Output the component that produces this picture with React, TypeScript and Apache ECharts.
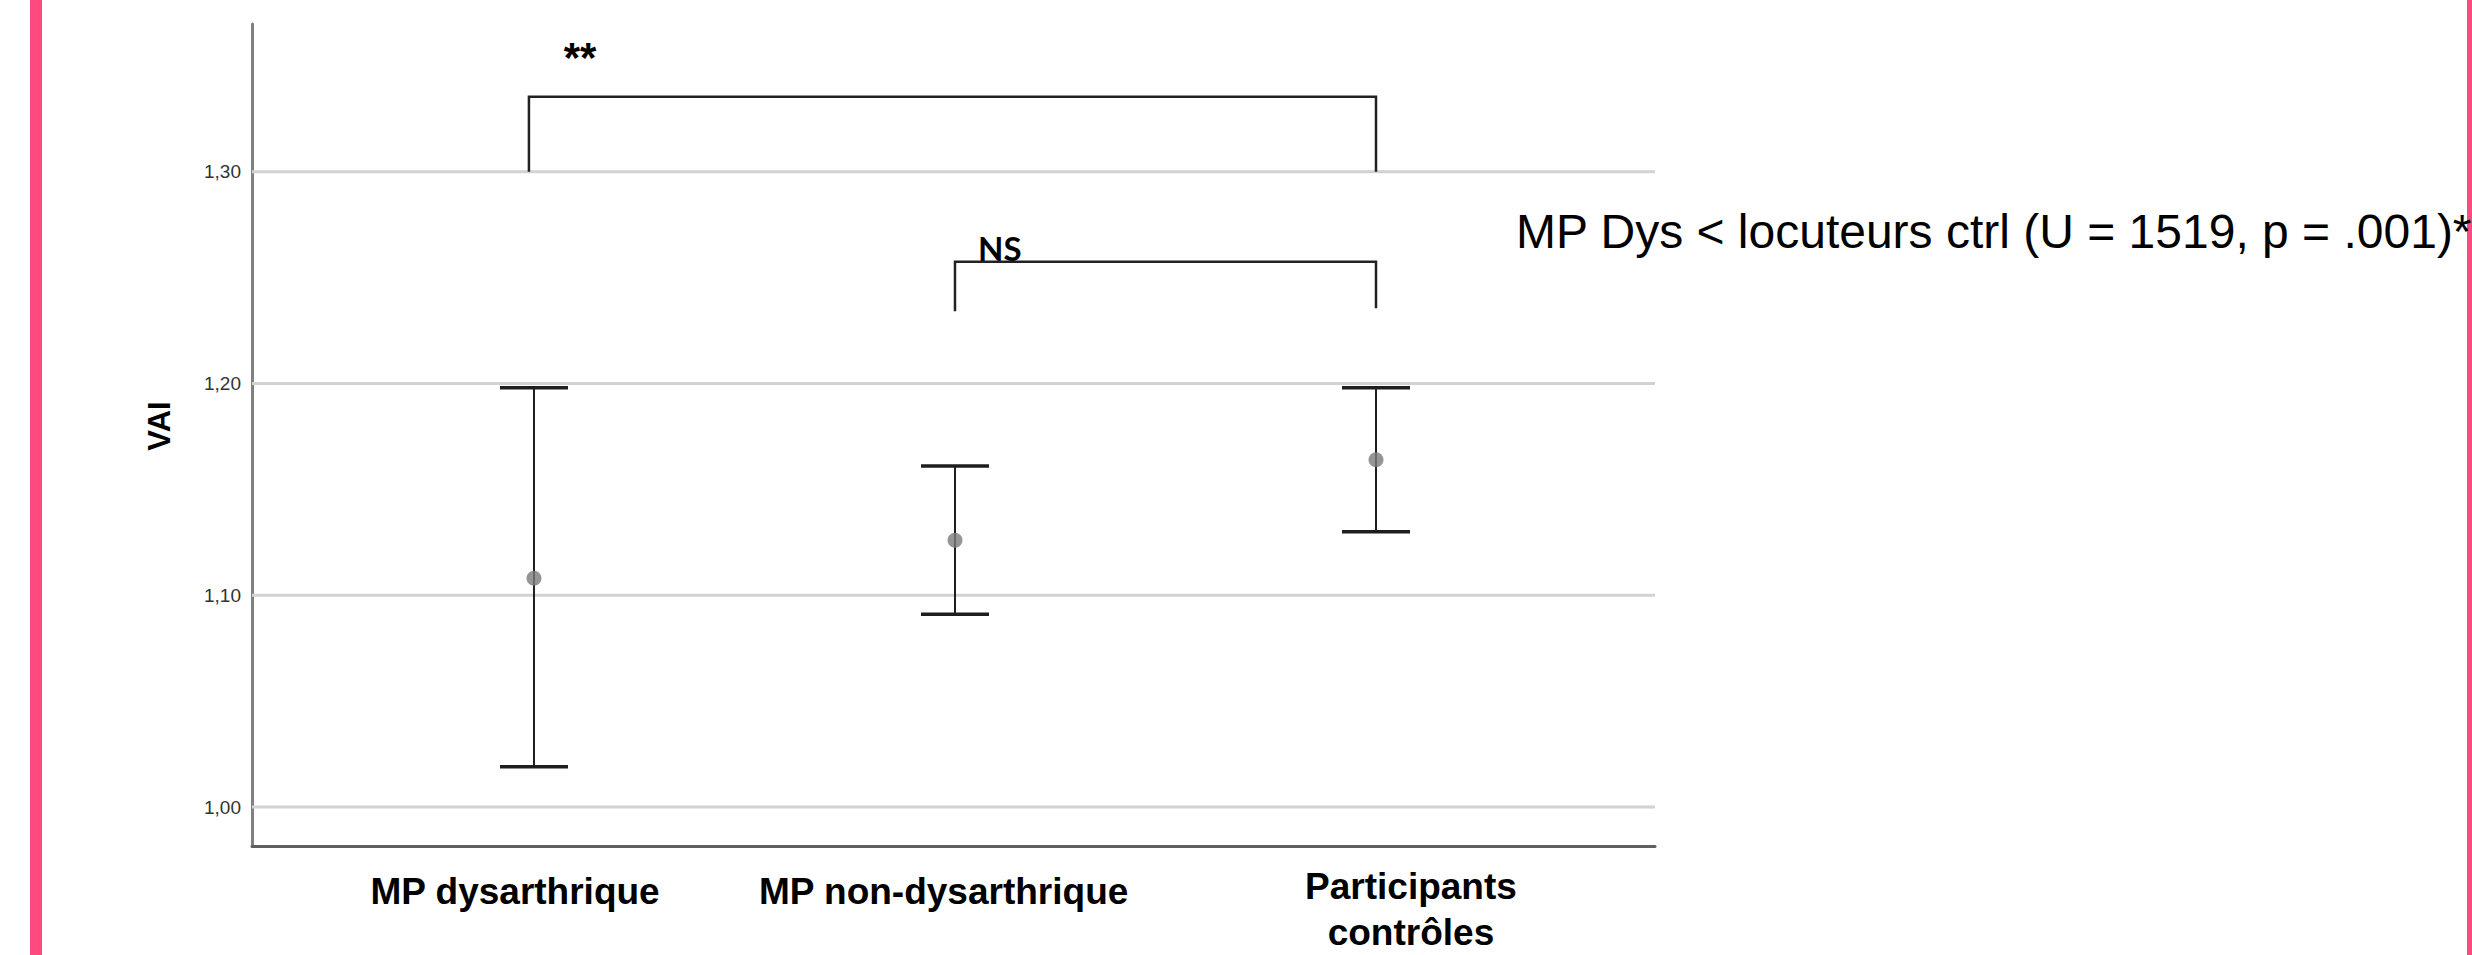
import React, { useEffect, useRef } from 'react';
import * as echarts from 'echarts';

// ---- data ----
const categories = ['MP dysarthrique', 'MP non-dysarthrique', 'Participants\ncontrôles'];
const categoryIndex = [0, 1, 2];
const meanValues = [1.108, 1.126, 1.164];
const ciLow = [1.019, 1.091, 1.130];
const ciHigh = [1.198, 1.161, 1.198];
const yTicks = [1.0, 1.1, 1.2, 1.3];
const yMin = 0.9816;
const yMax = 1.3697;
const xMin = -0.6698;
const xMax = 2.6627;

// significance brackets
const bracketFrom = [-0.012, 1];
const bracketTo = [2, 2];
const bracketTop = [1.3353, 1.2574];
const bracketLeftEnd = [1.3, 1.2341];
const bracketRightEnd = [1.3, 1.2355];
const bracketLabels = ['**', 'NS'];

const noteText = 'MP Dys < locuteurs ctrl (U = 1519, p = .001)*';
const yName = 'VAI';

// layout (label anchor positions on the x scale)
const labelPositions = [-0.045, 0.973, 2.083];

const FONT = '"Liberation Sans", Arial, Helvetica, sans-serif';

export default function App() {
  const ref = useRef<HTMLDivElement>(null);

  useEffect(() => {
    if (!ref.current) return;
    const chart = echarts.init(ref.current, undefined, { renderer: 'svg' });

    const labelFormatter = (v: number) => {
      const i = Math.round(v);
      const name = categories[i] || '';
      const lines = name.split('\n');
      const style = lines.length > 1 ? 'b' : 'a';
      return lines.map((s) => `{${style}|${s}}`).join('\n');
    };

    const option: any = {
      animation: false,
      backgroundColor: '#ffffff',
      grid: { left: 252, right: 817, top: 24, bottom: 107, containLabel: false },
      xAxis: {
        type: 'value',
        min: xMin,
        max: xMax,
        axisLine: { show: true, onZero: false, lineStyle: { color: '#606060', width: 3 } },
        axisTick: { show: false },
        splitLine: { show: false },
        axisLabel: {
          customValues: labelPositions,
          formatter: labelFormatter,
          margin: 17,
          color: '#000',
          fontSize: 37,
          fontWeight: 'bold',
          fontFamily: FONT,
          lineHeight: 46,
          rich: {
            a: { fontSize: 37, fontWeight: 'bold', fontFamily: FONT, color: '#000', lineHeight: 46, padding: [10, 0, 0, 0] },
            b: { fontSize: 37, fontWeight: 'bold', fontFamily: FONT, color: '#000', lineHeight: 46 },
          },
        },
      },
      yAxis: {
        type: 'value',
        min: yMin,
        max: yMax,
        axisLine: { show: true, onZero: false, lineStyle: { color: '#808080', width: 3 } },
        axisTick: { show: false },
        splitLine: { show: false },
        axisLabel: {
          customValues: yTicks,
          formatter: (v: number) => v.toFixed(2).replace('.', ','),
          fontSize: 19,
          color: '#333',
          margin: 11,
          fontFamily: FONT,
        },
        name: yName,
        nameLocation: 'middle',
        nameRotate: 90,
        nameGap: 77,
        nameTextStyle: { fontSize: 31, fontWeight: 'bold', color: '#000', fontFamily: FONT, padding: [0, 0, 0, 18] },
      },
      series: [
        {
          type: 'custom',
          name: 'grid',
          silent: true,
          z: 1,
          data: yTicks.map((v) => [0, v]),
          encode: { x: 0, y: 1 },
          renderItem: (params: any, api: any) => {
            const y = api.coord([0, api.value(1)])[1];
            const cs = params.coordSys;
            return {
              type: 'line',
              shape: { x1: cs.x, y1: y, x2: cs.x + cs.width, y2: y },
              style: { stroke: '#d2d2d2', lineWidth: 3 },
            };
          },
        },
        {
          type: 'custom',
          name: 'IC 95%',
          z: 4,
          data: categoryIndex.map((c, i) => [c, ciLow[i], ciHigh[i]]),
          encode: { x: 0, y: [1, 2] },
          renderItem: (params: any, api: any) => {
            const x = api.value(0);
            const lo = api.coord([x, api.value(1)]);
            const hi = api.coord([x, api.value(2)]);
            const hw = 34;
            return {
              type: 'group',
              children: [
                { type: 'line', shape: { x1: lo[0], y1: lo[1], x2: hi[0], y2: hi[1] }, style: { stroke: '#1e1e1e', lineWidth: 2 } },
                { type: 'line', shape: { x1: hi[0] - hw, y1: hi[1], x2: hi[0] + hw, y2: hi[1] }, style: { stroke: '#1e1e1e', lineWidth: 3.5 } },
                { type: 'line', shape: { x1: lo[0] - hw, y1: lo[1], x2: lo[0] + hw, y2: lo[1] }, style: { stroke: '#1e1e1e', lineWidth: 3.5 } },
              ],
            };
          },
        },
        {
          type: 'scatter',
          name: 'Moyenne',
          z: 5,
          symbol: 'circle',
          symbolSize: 15,
          itemStyle: { color: '#7a7a7a' },
          data: categoryIndex.map((c, i) => [c, meanValues[i]]),
        },
        {
          type: 'custom',
          name: 'brackets',
          silent: true,
          z: 3,
          data: bracketFrom.map((x0, i) => [x0, bracketTo[i], bracketTop[i], bracketLeftEnd[i], bracketRightEnd[i]]),
          encode: { x: [0, 1], y: [2, 3, 4] },
          renderItem: (params: any, api: any) => {
            const x0 = api.value(0);
            const x1 = api.value(1);
            const top = api.value(2);
            const p1 = api.coord([x0, api.value(3)]);
            const p2 = api.coord([x0, top]);
            const p3 = api.coord([x1, top]);
            const p4 = api.coord([x1, api.value(4)]);
            return {
              type: 'polyline',
              shape: { points: [p1, p2, p3, p4] },
              style: { stroke: '#222', lineWidth: 2.5, fill: null },
            };
          },
        },
      ],
      graphic: [
        { type: 'rect', shape: { x: 30, y: 0, width: 12, height: 955 }, style: { fill: '#ff4a7f' }, silent: true },
        { type: 'rect', shape: { x: 2467, y: 0, width: 5, height: 955 }, style: { fill: '#ff4a7f' }, silent: true },
        {
          type: 'text',
          x: 580,
          y: 57,
          style: { text: bracketLabels[0], fontSize: 42, fontWeight: 'bold', fontFamily: FONT, fill: '#000', align: 'center', verticalAlign: 'middle', textAlign: 'center', textVerticalAlign: 'middle' },
        },
        {
          type: 'text',
          x: 978,
          y: 248,
          style: { text: bracketLabels[1], fontSize: 33, fontWeight: 'bold', fontFamily: 'Lato, "Open Sans", sans-serif', fill: '#000', align: 'left', verticalAlign: 'middle', textAlign: 'left', textVerticalAlign: 'middle' },
        },
        {
          type: 'text',
          x: 1516,
          y: 231,
          style: { text: noteText, fontSize: 48, fontWeight: 'normal', fontFamily: FONT, fill: '#000', align: 'left', verticalAlign: 'middle', textAlign: 'left', textVerticalAlign: 'middle' },
        },
      ],
    };

    chart.setOption(option);
    return () => chart.dispose();
  }, []);

  return (
    <div
      ref={ref}
      style={{ position: 'absolute', left: 0, top: 0, width: 2472, height: 955, background: '#fff' }}
    />
  );
}
